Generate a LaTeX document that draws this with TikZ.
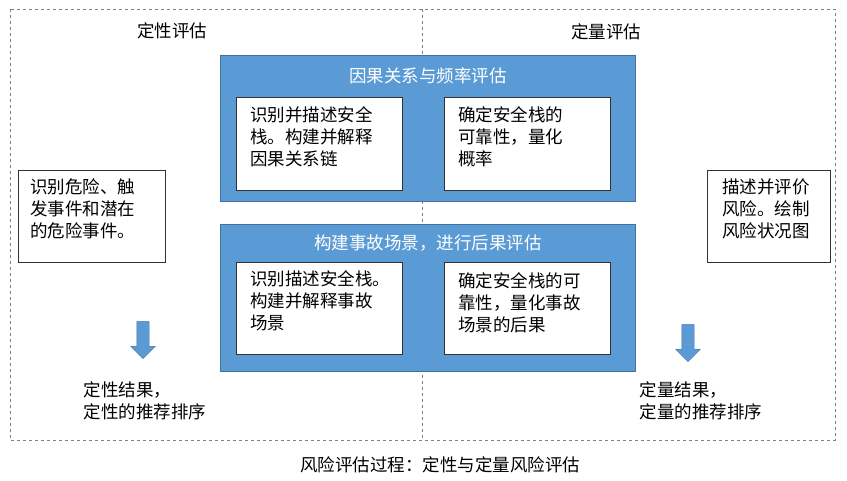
\documentclass[tikz,border=0pt]{standalone}
\usepackage{fontspec}
\setmainfont{Noto Sans CJK SC}
\usetikzlibrary{positioning,shapes.arrows}
\definecolor{boxblue}{HTML}{5B9BD5}
\definecolor{boxedge}{HTML}{41719C}
\tikzset{
  blue box/.style={draw=boxedge, fill=boxblue, line width=1pt},
  white box/.style={draw=black!80, fill=white, line width=0.6pt, text width=150pt, align=left, anchor=north west, inner sep=6pt, font=\fontsize{17.5}{22}\selectfont},
  title/.style={text=white, font=\fontsize{17.5}{20}\selectfont},
  plain/.style={font=\fontsize{17.5}{22}\selectfont, align=left},
  down arrow/.style={single arrow, draw=boxedge, fill=boxblue, rotate=-90, minimum height=37pt, single arrow head extend=6pt, inner sep=6pt}
}
\begin{document}
\begin{tikzpicture}[x=1pt,y=-1pt]
  \useasboundingbox (0,0) rectangle (847,481);
  % frame
  \draw [dashed, gray] (10,9) rectangle (835,440);
  \draw [dashed, gray] (422,9) -- (422,440);
  \node [plain] (qual) at (172,31) {定性评估};
  \node [plain] (quant) at (606,32) {定量评估};
  % cause and frequency
  \draw [blue box] (220,56) rectangle (635,202);
  \node [title] (freq) at (428,76) {因果关系与频率评估};
  \draw [white box] (236,97) rectangle (402,190);
  \node [white box, draw=none, fill=none] (f1) at (244,100) {识别并描述安全\\栈。构建并解释\\因果关系链};
  \draw [white box] (444,97) rectangle (610,190);
  \node [white box, draw=none, fill=none] (f2) at (452,100) {确定安全栈的\\可靠性，量化\\概率};
  % scenarios and consequences
  \draw [blue box] (220,225) rectangle (635,372);
  \node [title] (cons) at (428,243) {构建事故场景，进行后果评估};
  \draw [white box] (236,262) rectangle (402,354);
  \node [white box, draw=none, fill=none] (c1) at (244,264) {识别描述安全栈。\\构建并解释事故\\场景};
  \draw [white box] (444,262) rectangle (610,354);
  \node [white box, draw=none, fill=none] (c2) at (452,266) {确定安全栈的可\\靠性，量化事故\\场景的后果};
  % sides
  \draw [white box] (18,170) rectangle (165,262);
  \node [white box, draw=none, fill=none] (haz) at (24,172) {识别危险、触\\发事件和潜在\\的危险事件。};
  \draw [white box] (707,170) rectangle (830,262);
  \node [white box, draw=none, fill=none] (risk) at (716,172) {描述并评价\\风险。绘制\\风险状况图};
  \node [down arrow] (a1) at (143,337) {};
  \node [down arrow] (a2) at (688,340) {};
  \node [plain, anchor=north west] (r1) at (80,378) {定性结果，\\定性的推荐排序};
  \node [plain, anchor=north west] (r2) at (636,378) {定量结果，\\定量的推荐排序};
  \node [plain] (cap) at (440,465) {风险评估过程：定性与定量风险评估};
\end{tikzpicture}
\end{document}
